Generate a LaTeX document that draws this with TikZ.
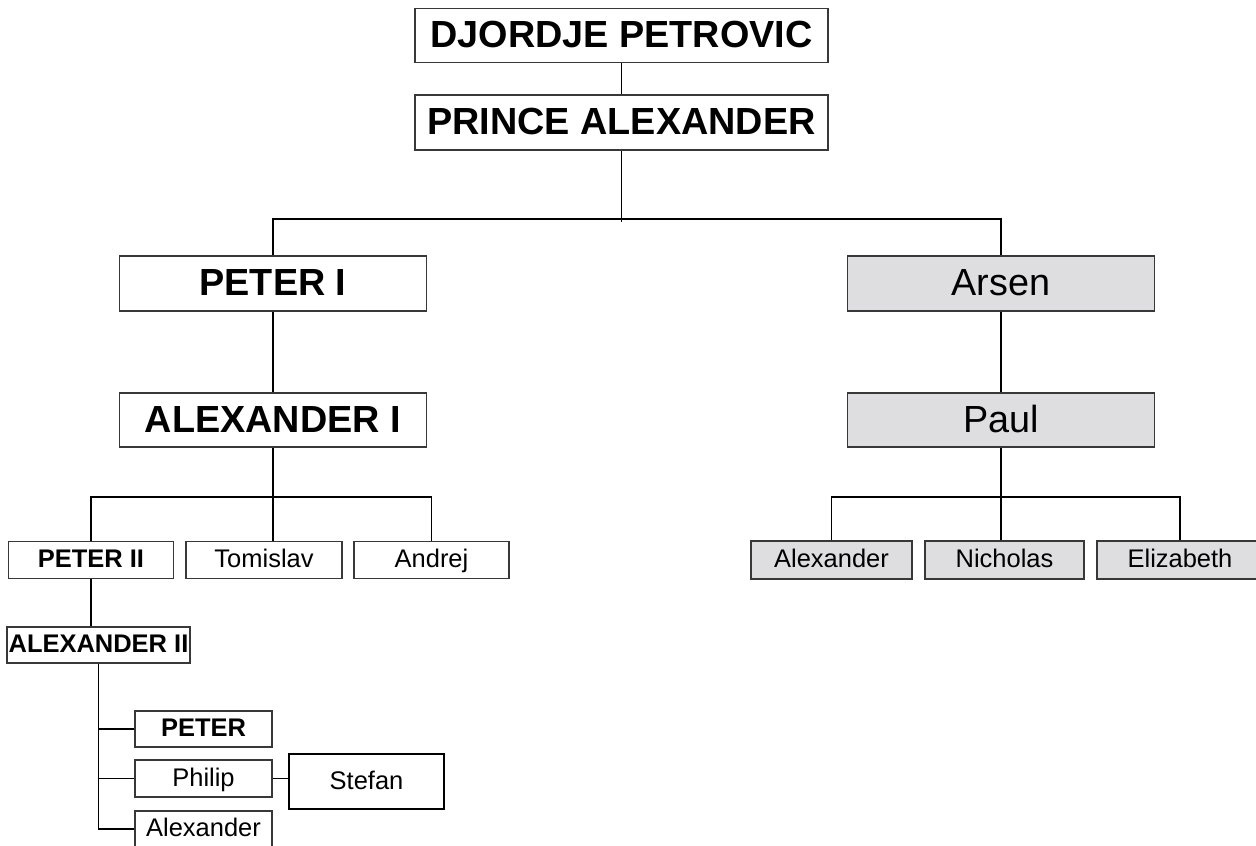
\documentclass[tikz,border=0pt]{standalone}
\usepackage{fontspec}
\setmainfont{Liberation Sans}
\usetikzlibrary{positioning}
\definecolor{mgray}{rgb}{0.87, 0.87, 0.88}
\definecolor{mline}{rgb}{0.22, 0.22, 0.22}
\tikzset{box/.style = {draw = mline, fill = white, inner sep = 0, line width = 0.8pt}}
\tikzset{bigbox/.style = {box, font = \fontsize{21.5}{24}\selectfont, text height = 15.4pt, text depth = 1.5pt}}
\tikzset{smallbox/.style = {box, font = \fontsize{14.5}{17}\selectfont, text height = 10.4pt, text depth = 1.5pt}}
\tikzset{grayed/.style = {fill = mgray}}
\tikzset{link/.style = {draw = black, line width = 0.75pt}}

\begin{document}
\begin{tikzpicture}[x = 0.02cm, y = -0.02cm]
    \useasboundingbox (0, 0) rectangle (1256, 845);

    \node [bigbox, minimum width = 8.26cm, minimum height = 1.08cm] (djordje) at (621.5, 35.5) {\textbf{DJORDJE PETROVIC}};
    \node [bigbox, minimum width = 8.26cm, minimum height = 1.10cm] (prince) at (621.5, 122.5) {\textbf{PRINCE ALEXANDER}};

    \node [bigbox, minimum width = 6.14cm, minimum height = 1.10cm] (peterI) at (273, 283.5) {\textbf{PETER I}};
    \node [bigbox, minimum width = 6.14cm, minimum height = 1.08cm] (alexI) at (273, 420) {\textbf{ALEXANDER I}};
    \node [bigbox, grayed, minimum width = 6.14cm, minimum height = 1.10cm] (arsen) at (1001, 283.5) {Arsen};
    \node [bigbox, grayed, minimum width = 6.14cm, minimum height = 1.08cm] (paul) at (1001, 420) {Paul};

    \node [smallbox, minimum width = 3.30cm, minimum height = 0.74cm] (peterII) at (91, 560) {\textbf{PETER II}};
    \node [smallbox, minimum width = 3.12cm, minimum height = 0.74cm] (tomislav) at (264, 560) {Tomislav};
    \node [smallbox, minimum width = 3.10cm, minimum height = 0.74cm] (andrej) at (431.5, 560) {Andrej};
    \node [smallbox, minimum width = 3.66cm, minimum height = 0.72cm] (alexII) at (98.5, 645) {\textbf{ALEXANDER II}};

    \node [smallbox, minimum width = 2.74cm, minimum height = 0.72cm] (peter) at (203.5, 729) {\textbf{PETER}};
    \node [smallbox, minimum width = 2.74cm, minimum height = 0.74cm] (philip) at (203.5, 778.5) {Philip};
    \node [smallbox, minimum width = 2.74cm, minimum height = 0.72cm] (alexander) at (203.5, 829) {Alexander};
    \node [smallbox, draw = black, line width = 1.4pt, minimum width = 3.10cm, minimum height = 1.10cm] (stefan) at (366.5, 781.5) {Stefan};

    \node [smallbox, grayed, minimum width = 3.22cm, minimum height = 0.76cm] (alexandre) at (831.5, 560) {Alexander};
    \node [smallbox, grayed, minimum width = 3.18cm, minimum height = 0.76cm] (nicholas) at (1004.5, 560) {Nicholas};
    \node [smallbox, grayed, minimum width = 3.32cm, minimum height = 0.76cm] (elizabeth) at (1180, 560) {Elizabeth};

    \coordinate (fork1) at (621.5, 219);
    \coordinate (fork2) at (273, 497);
    \coordinate (fork3) at (1001, 497);

    \draw [link] (djordje) -- (prince);
    \draw [link] (prince.south) -- ([yshift = -0.06cm] fork1);
    \draw [link] (peterI.north) |- (fork1) -| (arsen.north);

    \draw [link] (peterI) -- (alexI);
    \draw [link] (arsen) -- (paul);

    \draw [link] (alexI.south) -- (fork2);
    \draw [link] (peterII.north) |- (fork2) -| (andrej.north);
    \draw [link] (fork2) -- (fork2 |- tomislav.north);

    \draw [link] (paul.south) -- (fork3);
    \draw [link] (alexandre.north) |- (fork3) -| (elizabeth.north);
    \draw [link] (fork3) -- (fork3 |- nicholas.north);

    \draw [link] (peterII.south) -- (peterII.south |- alexII.north);
    \draw [link] (alexII.south) |- (alexander.west);
    \draw [link] (alexII.south |- peter.west) -- (peter.west);
    \draw [link] (alexII.south |- philip.west) -- (philip.west);
    \draw [link] (philip.east) -- (philip.east -| stefan.west);
  \end{tikzpicture}
\end{document}
